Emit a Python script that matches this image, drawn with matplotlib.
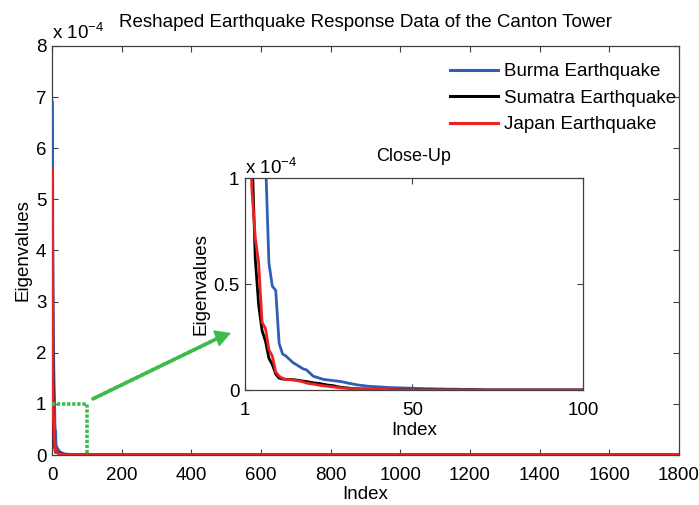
import numpy as np
import matplotlib
matplotlib.use("Agg")
import matplotlib.pyplot as plt

plt.rcParams['font.family'] = ['Liberation Sans', 'DejaVu Sans']
plt.rcParams['mathtext.fontset'] = 'custom'
plt.rcParams['mathtext.rm'] = 'Liberation Sans'

# eigenvalues in units of 1e-4, leading part of each spectrum (index 1, 2, ...)
burma_head = [6.9, 4.2, 2.9, 2.1, 1.6, 1.3, 1.1, 0.6, 0.49, 0.47,
              0.22, 0.17, 0.16, 0.145, 0.13, 0.12, 0.11, 0.10, 0.095, 0.08,
              0.065, 0.06, 0.055, 0.05, 0.048, 0.046, 0.044, 0.042, 0.04, 0.037,
              0.033, 0.03, 0.027, 0.024, 0.022, 0.02, 0.018, 0.017, 0.016, 0.015,
              0.014, 0.013, 0.012, 0.011, 0.011, 0.010, 0.010, 0.009, 0.009, 0.008,
              0.008, 0.007, 0.007, 0.006, 0.006, 0.006, 0.005, 0.005, 0.005, 0.004,
              0.004, 0.004, 0.004, 0.003, 0.003, 0.003, 0.003, 0.003, 0.002, 0.002]
sumatra_head = [5.2, 2.3, 1.15, 0.62, 0.4, 0.28, 0.23, 0.15, 0.12, 0.075,
                0.056, 0.052, 0.05, 0.05, 0.049, 0.047, 0.045, 0.042, 0.04, 0.037,
                0.034, 0.032, 0.03, 0.027, 0.024, 0.022, 0.02, 0.016, 0.013, 0.011,
                0.01, 0.008, 0.007, 0.006, 0.005, 0.005, 0.004, 0.004, 0.003, 0.003,
                0.003, 0.002, 0.002, 0.002, 0.002]
japan_head = [5.6, 1.6, 0.95, 0.72, 0.6, 0.32, 0.29, 0.19, 0.16, 0.085,
              0.065, 0.055, 0.05, 0.049, 0.047, 0.045, 0.042, 0.038, 0.033, 0.03,
              0.028, 0.025, 0.022, 0.02, 0.018, 0.016, 0.014, 0.012, 0.01, 0.009,
              0.008, 0.007, 0.006, 0.005, 0.005, 0.004, 0.004, 0.004, 0.003, 0.003,
              0.003, 0.003, 0.002, 0.002, 0.002]
N_INDEX = 1800

def full_spectrum(head):
    # remaining eigenvalues are numerically zero
    return np.concatenate([head, np.zeros(N_INDEX - len(head))])

idx = np.arange(1, N_INDEX + 1)
series = [
    ('Burma Earthquake', full_spectrum(burma_head), '#2f5fb4'),
    ('Sumatra Earthquake', full_spectrum(sumatra_head), '#000000'),
    ('Japan Earthquake', full_spectrum(japan_head), '#ee2222'),
]

GREEN = '#3cbc4c'
AX_COL = '#404040'
FS = 13.5

def matlab_axes(ax, fs):
    ax.tick_params(direction='in', top=True, right=True, length=4,
                   width=0.8, color=AX_COL, labelsize=fs)
    ax.tick_params(axis='x', pad=8.5)
    ax.tick_params(axis='y', pad=4)
    for sp in ax.spines.values():
        sp.set_edgecolor(AX_COL)
        sp.set_linewidth(0.9)

fig = plt.figure(figsize=(6.99, 5.05), dpi=100)
ax = fig.add_axes([0.0744, 0.099, 0.8970, 0.810])

for name, vals, col in series:
    ax.plot(idx, vals, color=col, lw=2.2, label=name, zorder=3)

ax.set_xlim(0, 1800)
ax.set_ylim(0, 8)
ax.set_xticks(np.arange(0, 1801, 200))
ax.set_yticks(np.arange(0, 9, 1))
matlab_axes(ax, FS)
ax.set_xlabel('Index', fontsize=FS, labelpad=1.5)
ax.set_ylabel('Eigenvalues', fontsize=FS, labelpad=3)
ax.text(0.5, 1.046, 'Reshaped Earthquake Response Data of the Canton Tower',
        transform=ax.transAxes, fontsize=FS, ha='center', va='baseline')
ax.text(0.0, 1.017, r'x 10$^{-4}$', transform=ax.transAxes,
        fontsize=FS, ha='left', va='baseline')

leg = ax.legend(loc='upper right', bbox_to_anchor=(0.998, 0.963),
                frameon=False, fontsize=FS, handlelength=2.56,
                handletextpad=0.32, labelspacing=0.5,
                borderaxespad=0.0, borderpad=0.1)
for line in leg.get_lines():
    line.set_linewidth(2.2)

# zoom region marker
ax.plot([0, 100, 100], [1, 1, 0], color=GREEN, lw=2.6,
        linestyle=(0, (0.9, 0.5)), zorder=4)
# dotted shaft, then a solid head at the inset end
ax.annotate('', xy=(0.318, 0.3345), xycoords='figure fraction',
            xytext=(118, 1.1), textcoords='data',
            arrowprops=dict(arrowstyle='-', color=GREEN, lw=2.8,
                            linestyle=(0, (0.9, 0.6)),
                            shrinkA=0, shrinkB=0))
ax.annotate('', xy=(0.3305, 0.3406), xycoords='figure fraction',
            xytext=(0.312, 0.3312), textcoords='figure fraction',
            arrowprops=dict(arrowstyle='-|>,head_length=1.0,head_width=0.55',
                            color=GREEN, lw=1.0, shrinkA=0, shrinkB=0))

# close-up inset
ins = fig.add_axes([0.3505, 0.2277, 0.4835, 0.4198])
for name, vals, col in series:
    ins.plot(idx, vals, color=col, lw=2.0)
ins.set_xlim(1, 100)
ins.set_ylim(0, 1)
ins.set_xticks([1, 50, 100])
ins.set_yticks([0, 0.5, 1])
ins.set_yticklabels(['0', '0.5', '1'])
matlab_axes(ins, FS)
ins.set_xlabel('Index', fontsize=FS, labelpad=2.5)
ins.set_ylabel('Eigenvalues', fontsize=FS, labelpad=3)
ins.text(0.5, 1.08, 'Close-Up', transform=ins.transAxes,
         fontsize=FS - 0.5, ha='center', va='baseline')
ins.text(0.0, 1.019, r'x 10$^{-4}$', transform=ins.transAxes,
         fontsize=FS, ha='left', va='baseline')

fig.savefig('out.png', dpi=100)
